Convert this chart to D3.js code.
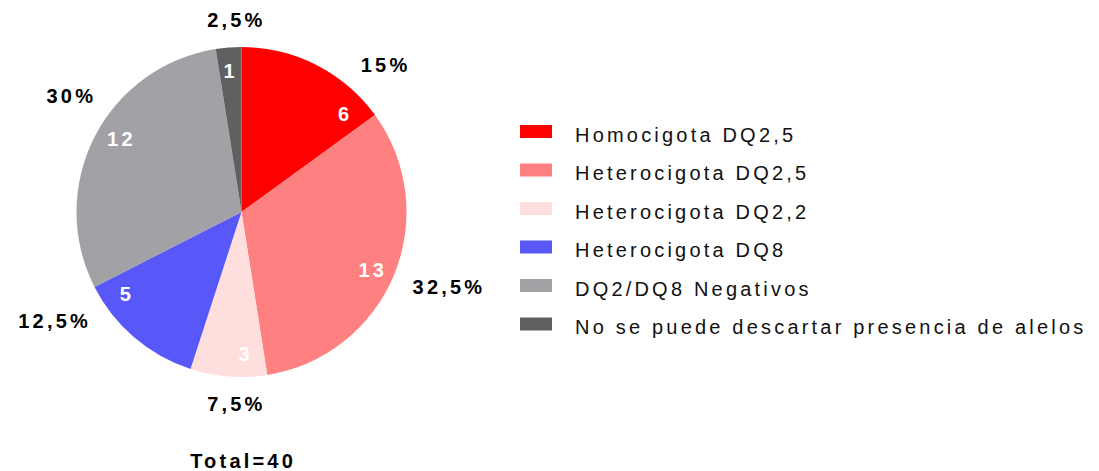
<!DOCTYPE html>
<html>
<head>
<meta charset="utf-8">
<script src="https://cdn.jsdelivr.net/npm/d3@7"></script>
<style>
  body { margin: 0; background: #fff; }
  text { font-family: Arial, "Liberation Sans", sans-serif; }
</style>
</head>
<body>
<div id="chart"></div>
<script>
// data
const categories = [
  "Homocigota DQ2,5",
  "Heterocigota DQ2,5",
  "Heterocigota DQ2,2",
  "Heterocigota DQ8",
  "DQ2/DQ8 Negativos",
  "No se puede descartar presencia de alelos"
];
const counts = [6, 13, 3, 5, 12, 1];
const totalLabel = "Total=40";

// colours
const colors = ["#ff0000", "#ff8080", "#ffdede", "#5858f8", "#a2a1a6", "#606060"];

// where the labels sit (degrees, clockwise from top) - the original tool doesn't use mid angles
const innerLabelAngle = [46, 114, 179, 235, 301, 355];
const outerLabelAngle = [44, 110, 182, 240, 304, 358];

var width = 1099, height = 471;
var cx = 241.5, cy = 212, radius = 165;
var spacing = 3.2;

var svg = d3.select("#chart")
  .append("svg")
    .attr("width", width)
    .attr("height", height);

var total = d3.sum(counts);
var color = d3.scaleOrdinal().domain(categories).range(colors);

var pie = d3.pie().sort(null).value(function (d) { return d; });
var arcs = pie(counts);
var arc = d3.arc().innerRadius(0).outerRadius(radius);

var g = svg.append("g")
  .attr("transform", "translate(" + cx + "," + cy + ")");

g.selectAll("path")
  .data(arcs)
  .enter()
  .append("path")
    .attr("d", arc)
    .style("fill", function (d, i) { return color(categories[i]); });

function fmtPct(v) {
  return d3.format(".3~f")(v / total * 100).replace(".", ",") + "%";
}
function rad(a) { return a * Math.PI / 180; }

// counts inside the slices
g.selectAll(".inner")
  .data(arcs)
  .enter()
  .append("text")
    .attr("class", "inner")
    .attr("x", function (d, i) { return 142 * Math.sin(rad(innerLabelAngle[i])) + spacing / 2; })
    .attr("y", function (d, i) { return -142 * Math.cos(rad(innerLabelAngle[i])); })
    .attr("dy", "0.36em")
    .attr("text-anchor", "middle")
    .style("font-size", "20px")
    .style("font-weight", "bold")
    .style("letter-spacing", spacing + "px")
    .style("fill", "#fff")
    .text(function (d) { return d.data; });

// percentages outside
var outer = g.selectAll(".outer")
  .data(arcs)
  .enter()
  .append("text")
    .attr("class", "outer")
    .attr("text-anchor", "middle")
    .attr("dy", "0.36em")
    .style("font-size", "20px")
    .style("font-weight", "bold")
    .style("letter-spacing", spacing + "px")
    .style("fill", "#000")
    .text(function (d) { return fmtPct(d.data); });

outer.each(function (d, i) {
  var a = rad(outerLabelAngle[i]);
  var hw = (this.getComputedTextLength() - spacing) / 2;
  var r = 184 + hw * Math.abs(Math.sin(a)) + 7 * Math.abs(Math.cos(a));
  d3.select(this)
    .attr("x", r * Math.sin(a) + spacing / 2)
    .attr("y", -r * Math.cos(a));
});

svg.append("text")
  .attr("x", cx + spacing / 2)
  .attr("y", 468)
  .attr("text-anchor", "middle")
  .style("font-size", "20px")
  .style("font-weight", "bold")
  .style("letter-spacing", spacing + "px")
  .text(totalLabel);

// legend
var legend = svg.append("g")
  .attr("transform", "translate(520,131.5)");

var row = legend.selectAll("g")
  .data(categories)
  .enter()
  .append("g")
    .attr("transform", function (d, i) { return "translate(0," + (i * 38.5) + ")"; });

row.append("rect")
  .attr("x", 0)
  .attr("y", -6.5)
  .attr("width", 32)
  .attr("height", 13)
  .style("fill", function (d) { return color(d); });

row.append("text")
  .attr("x", 55)
  .attr("y", 10)
  .style("font-size", "20px")
  .style("letter-spacing", spacing + "px")
  .style("fill", "#111")
  .text(function (d) { return d; });
</script>
</body>
</html>
